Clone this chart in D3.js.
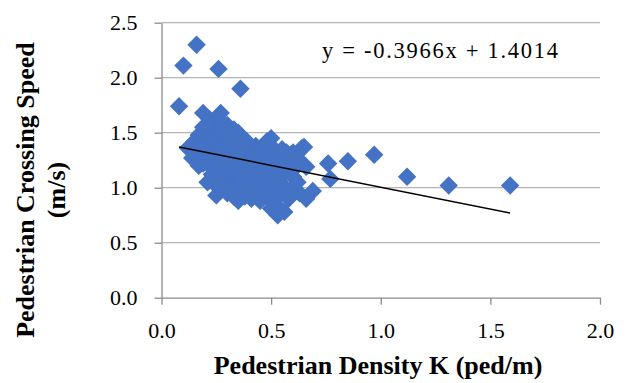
<!DOCTYPE html>
<html>
<head>
<meta charset="utf-8">
<script src="https://cdn.jsdelivr.net/npm/d3@7"></script>
<style>
  body { margin: 0; background: #fff; }
  text { font-family: "Liberation Serif", "Times New Roman", serif; fill: #000; }
</style>
</head>
<body>
<div id="chart"></div>
<script>
// pedestrian density K (ped/m) and crossing speed (m/s)
var density = [
  0.16, 0.10, 0.26, 0.36, 0.08, 0.97, 0.85, 0.76, 0.77, 1.12, 1.31, 1.59, 0.65, 0.66, 0.69,
  0.19, 0.27, 0.22, 0.25, 0.30, 0.33, 0.35, 0.39, 0.50, 0.64, 0.43, 0.47, 0.55, 0.60, 0.62,
  0.12, 0.14, 0.15, 0.17, 0.17, 0.19, 0.20, 0.23, 0.21,
  0.25, 0.27, 0.30, 0.33, 0.35, 0.38, 0.42, 0.45, 0.48, 0.50, 0.53, 0.56, 0.58, 0.60, 0.63, 0.66,
  0.18, 0.20, 0.21, 0.22, 0.22, 0.23, 0.24, 0.24, 0.25, 0.25, 0.26, 0.27, 0.27, 0.28, 0.28, 0.28,
  0.29, 0.30, 0.30, 0.31, 0.32, 0.32, 0.33, 0.34, 0.34, 0.35, 0.36, 0.36, 0.37, 0.38, 0.38, 0.39,
  0.40, 0.40, 0.41, 0.42, 0.43, 0.44, 0.44, 0.45, 0.46, 0.47, 0.48, 0.49, 0.50, 0.50, 0.51, 0.52,
  0.53, 0.53, 0.54, 0.55, 0.56, 0.57, 0.58, 0.59, 0.60, 0.61, 0.62, 0.57, 0.46, 0.41, 0.31, 0.26,
  0.19, 0.16, 0.36, 0.52, 0.48, 0.26, 0.21
];
var speed = [
  2.30, 2.11, 2.08, 1.90, 1.74, 1.30, 1.24, 1.22, 1.08, 1.10, 1.02, 1.02, 1.37, 1.19, 0.97,
  1.68, 1.68, 1.62, 1.60, 1.57, 1.53, 1.50, 1.42, 1.45, 1.36, 1.38, 1.36, 1.35, 1.32, 1.27,
  1.36, 1.27, 1.42, 1.20, 1.48, 1.55, 1.30, 1.12, 1.05,
  0.93, 0.98, 0.95, 0.92, 0.88, 0.92, 0.95, 0.88, 0.92, 0.81, 0.75, 0.78, 0.90, 1.00, 0.95, 0.90,
  1.35, 1.45, 1.38, 1.25, 1.50, 1.18, 1.42, 1.32, 1.55, 1.08, 1.22, 1.47, 1.38, 1.30, 1.12, 1.02,
  1.52, 1.40, 1.20, 1.05, 1.45, 1.30, 1.12, 1.38, 1.00, 1.22, 1.42, 1.08, 1.30, 1.15, 0.98, 1.35,
  1.25, 1.05, 1.18, 1.32, 1.10, 1.00, 1.25, 1.35, 1.15, 1.05, 1.28, 1.20, 1.38, 1.00, 1.10, 1.30,
  0.92, 1.20, 1.05, 1.25, 1.12, 0.98, 1.22, 1.30, 1.10, 1.18, 1.05, 1.32, 0.95, 0.90, 0.98, 1.00,
  1.22, 1.33, 0.95, 0.85, 1.42, 1.62, 1.58
];
var slope = -0.3966;
var intercept = 1.4014;
var xTicks = [0, 0.5, 1.0, 1.5, 2.0];
var yTicks = [0, 0.5, 1.0, 1.5, 2.0, 2.5];

var w = 629, h = 383;
var svg = d3.select("#chart").append("svg")
    .attr("width", w)
    .attr("height", h);

var xScale = d3.scaleLinear().domain([0, 2]).range([161.5, 600]);
var yScale = d3.scaleLinear().domain([0, 2.5]).range([297.7, 22.7]);

// horizontal gridlines
svg.append("g").selectAll("line")
    .data(yTicks.filter(function(d) { return d > 0; }))
    .enter().append("line")
    .attr("x1", xScale(0)).attr("x2", xScale(2))
    .attr("y1", function(d) { return yScale(d); })
    .attr("y2", function(d) { return yScale(d); })
    .attr("stroke", "#b5b5b5")
    .attr("stroke-width", 1.3);

var yAxis = d3.axisLeft(yScale).tickValues(yTicks).tickSize(7).tickSizeOuter(0).tickPadding(17)
    .tickFormat(d3.format(".1f"));
var xAxis = d3.axisBottom(xScale).tickValues(xTicks).tickSize(7).tickSizeOuter(0).tickPadding(18)
    .tickFormat(d3.format(".1f"));

var gy = svg.append("g").attr("transform", "translate(" + xScale(0) + ",0)").call(yAxis);
var gx = svg.append("g").attr("transform", "translate(0," + yScale(0) + ")").call(xAxis);

[gx, gy].forEach(function(g) {
  g.attr("font-family", null).attr("font-size", null);
  g.selectAll("path, line").attr("stroke", "#8c8c8c").attr("stroke-width", 1.3);
  g.selectAll("text")
    .style("font-family", '"Liberation Serif", serif')
    .style("font-size", "22px")
    .attr("fill", "#000");
});

// diamond markers
var diamond = d3.symbol().type(d3.symbolSquare).size(170);
svg.append("g").selectAll("path")
    .data(density.map(function(d, i) { return [d, speed[i]]; }))
    .enter().append("path")
    .attr("d", diamond)
    .attr("transform", function(d) {
      return "translate(" + xScale(d[0]) + "," + yScale(d[1]) + ") rotate(45)";
    })
    .attr("fill", "#4472c4");

// linear trendline
var xMin = d3.min(density), xMax = d3.max(density);
svg.append("line")
    .attr("x1", xScale(xMin)).attr("y1", yScale(slope * xMin + intercept))
    .attr("x2", xScale(xMax)).attr("y2", yScale(slope * xMax + intercept))
    .attr("stroke", "#000")
    .attr("stroke-width", 1.5);

svg.append("text")
    .attr("x", 322)
    .attr("y", 58)
    .attr("textLength", 236)
    .attr("lengthAdjust", "spacing")
    .style("font-size", "22.5px")
    .text("y = -0.3966x + 1.4014");

// axis titles
svg.append("text")
    .attr("x", 378)
    .attr("y", 374)
    .attr("text-anchor", "middle")
    .style("font-size", "26px")
    .style("font-weight", "bold")
    .text("Pedestrian Density K (ped/m)");

var yt = svg.append("text")
    .attr("transform", "translate(0,190) rotate(-90)")
    .attr("text-anchor", "middle")
    .style("font-size", "26px")
    .style("font-weight", "bold");
yt.append("tspan").attr("x", 0).attr("y", 34).text("Pedestrian Crossing Speed");
yt.append("tspan").attr("x", 0).attr("y", 65).text("(m/s)");
</script>
</body>
</html>
